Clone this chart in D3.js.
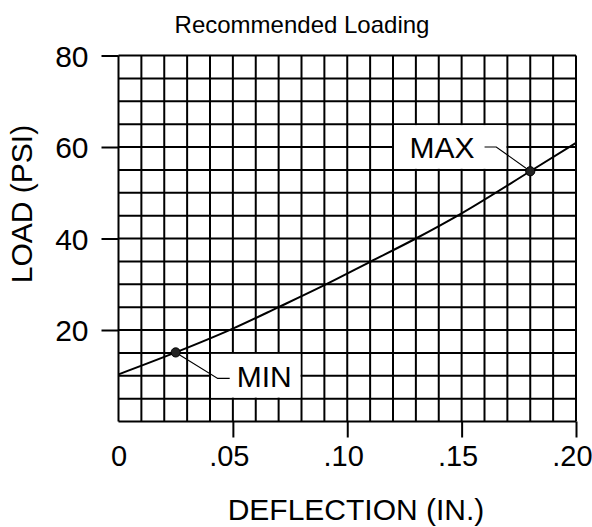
<!DOCTYPE html>
<html>
<head>
<meta charset="utf-8">
<script src="https://cdn.jsdelivr.net/npm/d3@7"></script>
<style>
  html, body { margin: 0; padding: 0; background: #fff; }
  svg { display: block; }
  text { font-family: "Liberation Sans", Arial, Helvetica, sans-serif; fill: #000; }
</style>
</head>
<body>
<svg id="chart" width="592" height="527"></svg>
<script>
// ---- data ----
const deflection = [0, 0.025, 0.05, 0.07, 0.09, 0.11, 0.13, 0.15, 0.18, 0.20];
const load       = [10.3, 15.1, 20.3, 25.0, 29.8, 34.9, 40.0, 45.5, 54.7, 60.9];

const markerNames = ["MIN", "MAX"];
const markerX = [0.025, 0.18];
const markerY = [15.1, 54.7];

const xTickValues = [0, 0.05, 0.10, 0.15, 0.20];
const xTickLabels = ["0", ".05", ".10", ".15", ".20"];
const yTickValues = [20, 40, 60, 80];
const yTickLabels = ["20", "40", "60", "80"];

const titleText = "Recommended Loading";
const xTitle = "DEFLECTION (IN.)";
const yTitle = "LOAD (PSI)";

// ---- layout ----
const svg = d3.select("#chart");
const plotLeft = 118.5, plotRight = 576, plotTop = 55.5, plotBottom = 421.5;

const x = d3.scaleLinear().domain([0, 0.20]).range([plotLeft, plotRight]);
const y = d3.scaleLinear().domain([0, 80]).range([plotBottom, plotTop]);

// grid (every 0.01 in, every 5 psi)
const xGrid = d3.range(0, 21).map(i => i * 0.01);
const yGrid = d3.range(0, 17).map(i => i * 5);

const grid = svg.append("g").attr("stroke", "#000").attr("stroke-width", 2);
grid.selectAll("line.v").data(xGrid).join("line")
  .attr("class", "v")
  .attr("x1", d => x(d)).attr("x2", d => x(d))
  .attr("y1", y(0)).attr("y2", y(80));
grid.selectAll("line.h").data(yGrid).join("line")
  .attr("class", "h")
  .attr("x1", x(0)).attr("x2", x(0.20))
  .attr("y1", d => y(d)).attr("y2", d => y(d));

// axes
const xAxis = d3.axisBottom(x)
  .tickValues(xTickValues)
  .tickFormat((d, i) => xTickLabels[i])
  .tickSize(16).tickPadding(10);
const gx = svg.append("g").attr("transform", `translate(0,${plotBottom})`).call(xAxis);
gx.select(".domain").remove();
gx.selectAll(".tick line").attr("stroke", "#000").attr("stroke-width", 2)
  .attr("display", d => d === 0 ? "none" : null);
gx.selectAll(".tick text")
  .attr("font-size", 29).attr("font-family", "Liberation Sans, Arial, sans-serif")
  .attr("fill", "#000")
  .attr("dy", "0.71em")
  .attr("dx", (d, i) => xTickLabels[i].startsWith(".") ? "-0.14em" : 0)
  .attr("y", 24);

const yAxis = d3.axisLeft(y)
  .tickValues(yTickValues)
  .tickFormat((d, i) => yTickLabels[i])
  .tickSize(17).tickPadding(13);
const gy = svg.append("g").attr("transform", `translate(${plotLeft},0)`).call(yAxis);
gy.select(".domain").remove();
gy.selectAll(".tick line").attr("stroke", "#000").attr("stroke-width", 2);
gy.selectAll(".tick text")
  .attr("font-size", 30).attr("font-family", "Liberation Sans, Arial, sans-serif")
  .attr("fill", "#000").attr("dy", "0.36em");

// curve
const pts = deflection.map((d, i) => [d, load[i]]);
const line = d3.line().x(d => x(d[0])).y(d => y(d[1])).curve(d3.curveMonotoneX);
svg.append("path").datum(pts)
  .attr("d", line)
  .attr("fill", "none").attr("stroke", "#000").attr("stroke-width", 2);

// label boxes (white, covering grid cells)
const boxes = [
  { x0: 0.04, x1: 0.08, y0: 5, y1: 15 },
  { x0: 0.12, x1: 0.17, y0: 55, y1: 65 }
];
svg.selectAll("rect.lbl").data(boxes).join("rect")
  .attr("class", "lbl")
  .attr("x", d => x(d.x0) + 1).attr("width", d => x(d.x1) - x(d.x0) - 2)
  .attr("y", d => y(d.y1) + 1).attr("height", d => y(d.y0) - y(d.y1) - 2)
  .attr("fill", "#fff");

// leaders + labels
const leaderOffsets = [
  [[42, 26], [54, 26]],
  [[-34, -24.3], [-45.7, -24.3]]
];
const textOffsets = [[61, 34.5, "start"], [-55.7, -13.7, "end"]];

markerNames.forEach((name, i) => {
  const px = x(markerX[i]), py = y(markerY[i]);
  const p = [[px, py]].concat(leaderOffsets[i].map(o => [px + o[0], py + o[1]]));
  svg.append("path")
    .attr("d", d3.line()(p))
    .attr("fill", "none").attr("stroke", "#000").attr("stroke-width", 1.1);
  svg.append("circle")
    .attr("cx", px).attr("cy", py).attr("r", 4.6)
    .attr("fill", "#222").attr("stroke", "#000").attr("stroke-width", 1);
  svg.append("text")
    .attr("x", px + textOffsets[i][0]).attr("y", py + textOffsets[i][1])
    .attr("text-anchor", textOffsets[i][2])
    .attr("font-size", 30)
    .text(name);
});

// titles
svg.append("text")
  .attr("x", 302).attr("y", 33)
  .attr("text-anchor", "middle").attr("font-size", 24)
  .text(titleText);

svg.append("text")
  .attr("x", 356).attr("y", 520)
  .attr("text-anchor", "middle").attr("font-size", 30)
  .text(xTitle);

svg.append("text")
  .attr("transform", "translate(32,204) rotate(-90)")
  .attr("text-anchor", "middle").attr("font-size", 30)
  .text(yTitle);
</script>
</body>
</html>
